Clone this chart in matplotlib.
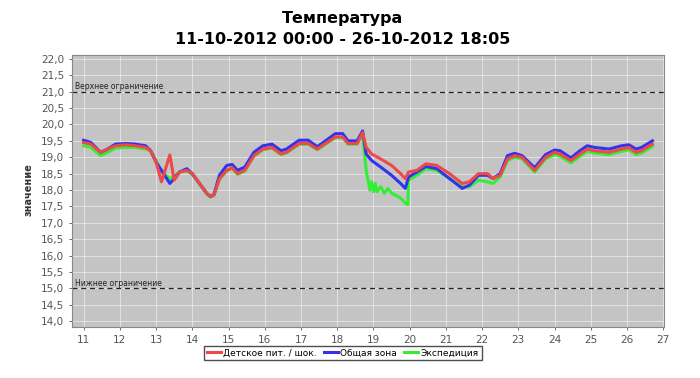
import matplotlib
matplotlib.use("Agg")
import matplotlib.pyplot as plt
from matplotlib.ticker import FuncFormatter, MultipleLocator

# ---------------------------------------------------------------------
# Data, x = day of October 2012
# ---------------------------------------------------------------------
days = [11.0, 11.2, 11.47, 11.66, 11.88, 12.16, 12.43, 12.71, 12.85, 13.0,
        13.15, 13.38, 13.5, 13.65, 13.85, 14.0, 14.2, 14.4, 14.5, 14.6,
        14.75, 14.95, 15.1, 15.25, 15.45, 15.7, 15.95, 16.2, 16.45, 16.6,
        16.95, 17.2, 17.45, 17.65, 17.95, 18.15, 18.3, 18.55, 18.7, 18.8,
        18.95, 19.2, 19.5, 19.75, 19.88, 19.97, 20.2, 20.45, 20.75, 21.1,
        21.45, 21.65, 21.9, 22.15, 22.3, 22.5, 22.7, 22.9, 23.1, 23.45,
        23.75, 24.0, 24.15, 24.45, 24.7, 24.9, 25.1, 25.5, 25.85, 26.05,
        26.25, 26.4, 26.7]

red = [19.45, 19.4, 19.15, 19.25, 19.35, 19.38, 19.35, 19.3, 19.2, 18.85,
       18.25, 19.07, 18.3, 18.55, 18.6, 18.5, 18.2, 17.9, 17.8, 17.85,
       18.35, 18.6, 18.68, 18.5, 18.6, 19.05, 19.25, 19.3, 19.1, 19.15,
       19.42, 19.42, 19.25, 19.4, 19.62, 19.62, 19.42, 19.42, 19.75, 19.3,
       19.1, 18.95, 18.75, 18.5, 18.35, 18.55, 18.6, 18.8, 18.75, 18.5,
       18.2, 18.25, 18.5, 18.5, 18.35, 18.45, 18.95, 19.05, 19.0, 18.6,
       19.0, 19.15, 19.1, 18.9, 19.1, 19.25, 19.2, 19.15, 19.25, 19.3,
       19.15, 19.2, 19.4]

blue = [19.52, 19.45, 19.15, 19.25, 19.4, 19.42, 19.4, 19.35, 19.2, 18.85,
        18.6, 18.2, 18.35, 18.55, 18.65, 18.5, 18.2, 17.9, 17.8, 17.87,
        18.45, 18.75, 18.78, 18.6, 18.7, 19.15, 19.35, 19.4, 19.2, 19.25,
        19.52, 19.52, 19.32, 19.48, 19.72, 19.72, 19.5, 19.5, 19.8, 19.1,
        18.9, 18.7, 18.45, 18.2, 18.05, 18.4, 18.55, 18.72, 18.65, 18.35,
        18.05, 18.15, 18.45, 18.45, 18.35, 18.5, 19.05, 19.12, 19.05, 18.68,
        19.08, 19.22, 19.2, 18.98, 19.2, 19.35, 19.3, 19.25, 19.35, 19.38,
        19.25, 19.3, 19.5]

green_days = [11.0, 11.2, 11.47, 11.66, 11.88, 12.16, 12.43, 12.71, 12.85, 13.0,
              13.15, 13.38, 13.5, 13.65, 13.85, 14.0, 14.2, 14.4, 14.5, 14.6,
              14.75, 14.95, 15.1, 15.25, 15.45, 15.7, 15.95, 16.2, 16.45, 16.6,
              16.95, 17.2, 17.45, 17.65, 17.95, 18.15, 18.3, 18.55, 18.7, 18.8,
              18.85, 18.9, 18.95, 19.0, 19.05, 19.1, 19.2, 19.3, 19.4, 19.5,
              19.6, 19.75, 19.88, 19.95, 19.97, 20.2, 20.45, 20.75, 21.1, 21.45,
              21.65, 21.9, 22.15, 22.3, 22.5, 22.7, 22.9, 23.1, 23.45, 23.75,
              24.0, 24.15, 24.45, 24.7, 24.9, 25.1, 25.5, 25.85, 26.05, 26.25,
              26.4, 26.7]

green = [19.35, 19.3, 19.05, 19.15, 19.28, 19.3, 19.3, 19.25, 19.2, 18.9,
         18.55, 18.35, 18.4, 18.55, 18.58, 18.48, 18.18, 17.88, 17.78, 17.83,
         18.33, 18.58, 18.66, 18.48, 18.58, 19.03, 19.23, 19.28, 19.08, 19.13,
         19.4, 19.4, 19.23, 19.38, 19.6, 19.6, 19.4, 19.4, 19.7, 18.6,
         18.3, 18.0, 18.25, 17.95, 18.2, 17.95, 18.1, 17.9, 18.05, 17.9,
         17.85, 17.75, 17.6, 17.55, 18.3, 18.45, 18.65, 18.6, 18.35, 18.1,
         18.1, 18.3, 18.25, 18.2, 18.4, 18.9, 19.0, 18.95, 18.55, 18.95,
         19.08, 19.03, 18.83, 19.03, 19.18, 19.13, 19.08, 19.18, 19.23, 19.08,
         19.13, 19.33]

series_names = ["Детское пит. / шок.", "Общая зона", "Экспедиция"]
upper_limit = 21.0
lower_limit = 15.0

# ---------------------------------------------------------------------
# Plot
# ---------------------------------------------------------------------
plt.rcParams["font.family"] = ["DejaVu Sans"]

fig = plt.figure(figsize=(7.0, 3.78), dpi=100)
ax = fig.add_axes([72 / 700, 1 - 327 / 378, 592 / 700, 272 / 378])
ax.set_facecolor("#c4c4c4")

ax.plot(green_days, green, color="#33ee33", linewidth=2.2, solid_joinstyle="round")
ax.plot(days, blue, color="#3333ee", linewidth=2.2, solid_joinstyle="round")
ax.plot(days, red, color="#f04848", linewidth=2.2, solid_joinstyle="round")

ax.axhline(upper_limit, color="#222222", linestyle=(0, (4, 3)), linewidth=0.9)
ax.axhline(lower_limit, color="#222222", linestyle=(0, (4, 3)), linewidth=0.9)
ax.text(10.75, upper_limit + 0.08, "Верхнее ограничение", fontsize=5.5, color="#222222")
ax.text(10.75, lower_limit + 0.08, "Нижнее ограничение", fontsize=5.5, color="#222222")

ax.set_xlim(10.68, 27.02)
ax.set_ylim(13.82, 22.12)
ax.xaxis.set_major_locator(MultipleLocator(1))
ax.yaxis.set_major_locator(MultipleLocator(0.5))
ax.yaxis.set_major_formatter(FuncFormatter(lambda v, p: f"{v:.1f}".replace(".", ",")))
ax.xaxis.set_major_formatter(FuncFormatter(lambda v, p: f"{int(round(v))}"))
ax.grid(True, color="white", linewidth=0.5, alpha=0.7)
ax.set_axisbelow(True)
ax.tick_params(labelsize=7.5, colors="#555555", length=2, width=0.6)
for s in ax.spines.values():
    s.set_color("#888888")

fig.text(28 / 700, 1 - 190 / 378, "значение", rotation=90, ha="center", va="center",
         fontsize=7, fontweight="bold", color="#333333")

fig.text(343 / 700, 1 - 19 / 378, "Температура", ha="center", va="center",
         fontsize=11.5, fontweight="bold")
fig.text(343 / 700, 1 - 39 / 378, "11-10-2012 00:00 - 26-10-2012 18:05", ha="center",
         va="center", fontsize=11.5, fontweight="bold")

handles = ax.get_lines()[:3]
fig.legend([handles[2], handles[1], handles[0]], series_names, loc="center",
           bbox_to_anchor=(343 / 700, 1 - 353 / 378), ncol=3, fontsize=6.5,
           frameon=True, fancybox=False, edgecolor="#222222", handlelength=1.5,
           handletextpad=0.3, columnspacing=0.8, borderpad=0.3)

fig.savefig("out.png", dpi=100, facecolor="white")
